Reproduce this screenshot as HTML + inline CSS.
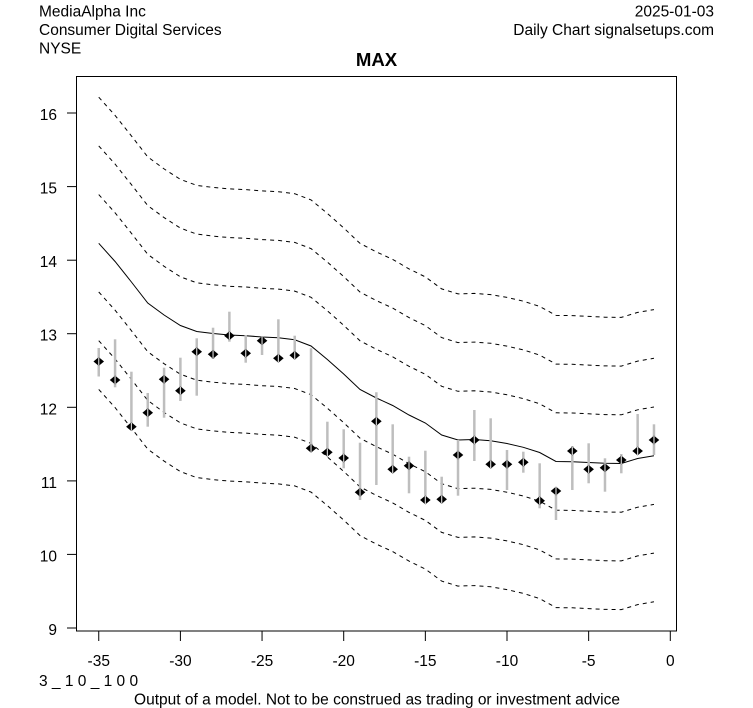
<!DOCTYPE html>
<html><head><meta charset="utf-8"><style>
html,body{margin:0;padding:0;background:#fff;}
svg{display:block;}
text{font-family:"Liberation Sans",Arial,sans-serif;fill:#000;}
</style></head><body>
<svg width="753" height="708" viewBox="0 0 753 708" xmlns="http://www.w3.org/2000/svg">
<rect x="0" y="0" width="753" height="708" fill="#fff"/>
<!-- header -->
<text x="39" y="16.7" font-size="15.5">MediaAlpha Inc</text>
<text x="39" y="35" font-size="15.5">Consumer Digital Services</text>
<text x="39" y="53.3" font-size="15.5">NYSE</text>
<text x="714" y="16.7" font-size="15.5" text-anchor="end">2025-01-03</text>
<text x="714" y="35" font-size="15.5" text-anchor="end">Daily Chart signalsetups.com</text>
<text x="376.5" y="66" font-size="18.6" font-weight="bold" text-anchor="middle">MAX</text>

<!-- box -->
<rect x="76.5" y="76.5" width="600" height="554.5" fill="none" stroke="#000" stroke-width="1"/>

<!-- y ticks -->
<g stroke="#000" stroke-width="1">
<line x1="67" y1="628" x2="76.5" y2="628"/>
<line x1="67" y1="554.4" x2="76.5" y2="554.4"/>
<line x1="67" y1="480.9" x2="76.5" y2="480.9"/>
<line x1="67" y1="407.3" x2="76.5" y2="407.3"/>
<line x1="67" y1="333.7" x2="76.5" y2="333.7"/>
<line x1="67" y1="260.2" x2="76.5" y2="260.2"/>
<line x1="67" y1="186.6" x2="76.5" y2="186.6"/>
<line x1="67" y1="113" x2="76.5" y2="113"/>
</g>
<g font-size="15.5" text-anchor="end">
<text x="57" y="635">9</text>
<text x="57" y="561.4">10</text>
<text x="57" y="487.9">11</text>
<text x="57" y="414.3">12</text>
<text x="57" y="340.7">13</text>
<text x="57" y="267.2">14</text>
<text x="57" y="193.6">15</text>
<text x="57" y="120">16</text>
</g>

<!-- x ticks -->
<g stroke="#000" stroke-width="1">
<line x1="98.75" y1="631" x2="98.75" y2="641"/>
<line x1="180.4" y1="631" x2="180.4" y2="641"/>
<line x1="262.05" y1="631" x2="262.05" y2="641"/>
<line x1="343.7" y1="631" x2="343.7" y2="641"/>
<line x1="425.35" y1="631" x2="425.35" y2="641"/>
<line x1="507" y1="631" x2="507" y2="641"/>
<line x1="588.65" y1="631" x2="588.65" y2="641"/>
<line x1="670.3" y1="631" x2="670.3" y2="641"/>
</g>
<g font-size="15.5" text-anchor="middle">
<text x="98.75" y="666">-35</text>
<text x="180.4" y="666">-30</text>
<text x="262.05" y="666">-25</text>
<text x="343.7" y="666">-20</text>
<text x="425.35" y="666">-15</text>
<text x="507" y="666">-10</text>
<text x="588.65" y="666">-5</text>
<text x="670.3" y="666">0</text>
</g>

<!-- bottom texts -->
<text x="39" y="686" font-size="15.5">3 _ 1 0 _ 1 0 0</text>
<text x="377" y="704.5" font-size="15.5" text-anchor="middle">Output of a model. Not to be construed as trading or investment advice</text>

<!-- lines -->
<g fill="none" stroke="#000" stroke-width="1">
<path id="c" d="M98.75,243.3 L115.08,261.5 L131.41,282 L147.74,303 L164.07,315 L180.4,325.5 L196.73,331.5 L213.06,333.5 L229.39,335 L245.72,335.7 L262.05,337 L278.38,337.8 L294.71,339.8 L311.04,346 L327.37,359.5 L343.7,374 L360.03,389.5 L376.36,398 L392.69,405.5 L409.02,415 L425.35,423 L441.68,435 L458.01,440 L474.34,439.5 L490.67,440.7 L507,443.5 L523.33,447.3 L539.66,452.5 L555.99,461.5 L572.32,461.7 L588.65,462.5 L604.98,463.3 L621.31,463.5 L637.64,458.5 L653.97,455.7"/>
<g stroke-dasharray="4,4">
<use href="#c" transform="translate(0,-146.1)"/>
<use href="#c" transform="translate(0,-97.4)"/>
<use href="#c" transform="translate(0,-48.7)"/>
<use href="#c" transform="translate(0,48.7)"/>
<use href="#c" transform="translate(0,97.4)"/>
<use href="#c" transform="translate(0,146.1)"/>
</g>
</g>

<!-- candles -->
<g id="bars" stroke="#bebebe" stroke-width="2.5">
<line x1="98.75" y1="348" x2="98.75" y2="376.5"/>
<line x1="115.08" y1="339.3" x2="115.08" y2="387.3"/>
<line x1="131.41" y1="371.7" x2="131.41" y2="430"/>
<line x1="147.74" y1="393" x2="147.74" y2="426.7"/>
<line x1="164.07" y1="367.7" x2="164.07" y2="417.7"/>
<line x1="180.4" y1="357.7" x2="180.4" y2="401"/>
<line x1="196.73" y1="338.3" x2="196.73" y2="395.7"/>
<line x1="213.06" y1="327.7" x2="213.06" y2="359"/>
<line x1="229.39" y1="311.7" x2="229.39" y2="341.7"/>
<line x1="245.72" y1="335" x2="245.72" y2="362.7"/>
<line x1="262.05" y1="336.7" x2="262.05" y2="355"/>
<line x1="278.38" y1="319.3" x2="278.38" y2="361.7"/>
<line x1="294.71" y1="335.7" x2="294.71" y2="359.3"/>
<line x1="311.04" y1="348.3" x2="311.04" y2="450"/>
<line x1="327.37" y1="421.7" x2="327.37" y2="455"/>
<line x1="343.7" y1="429.3" x2="343.7" y2="468.3"/>
<line x1="360.03" y1="442.7" x2="360.03" y2="500"/>
<line x1="376.36" y1="392.3" x2="376.36" y2="485"/>
<line x1="392.69" y1="424.3" x2="392.69" y2="471.7"/>
<line x1="409.02" y1="456.7" x2="409.02" y2="493.3"/>
<line x1="425.35" y1="450.7" x2="425.35" y2="503.3"/>
<line x1="441.68" y1="476.7" x2="441.68" y2="503.3"/>
<line x1="458.01" y1="440" x2="458.01" y2="495.7"/>
<line x1="474.34" y1="410" x2="474.34" y2="461"/>
<line x1="490.67" y1="418.3" x2="490.67" y2="468.3"/>
<line x1="507" y1="450" x2="507" y2="490"/>
<line x1="523.33" y1="451.7" x2="523.33" y2="472.7"/>
<line x1="539.66" y1="463.3" x2="539.66" y2="508.3"/>
<line x1="555.99" y1="487.7" x2="555.99" y2="520"/>
<line x1="572.32" y1="446" x2="572.32" y2="490"/>
<line x1="588.65" y1="443.3" x2="588.65" y2="483.3"/>
<line x1="604.98" y1="458.3" x2="604.98" y2="491.7"/>
<line x1="621.31" y1="454" x2="621.31" y2="473.3"/>
<line x1="637.64" y1="414" x2="637.64" y2="455"/>
<line x1="653.97" y1="424.3" x2="653.97" y2="455"/>
</g>
<g fill="#000">
<path d="M0,-4.4 L5.3,0 L0,4.4 L-5.3,0Z" id="d" transform="translate(98.75,361.5)"/>
<use href="#d" transform="translate(16.33,18.5)"/>
<use href="#d" transform="translate(32.66,65.2)"/>
<use href="#d" transform="translate(48.99,51.2)"/>
<use href="#d" transform="translate(65.32,17.8)"/>
<use href="#d" transform="translate(81.65,29.2)"/>
<use href="#d" transform="translate(97.98,-9.8)"/>
<use href="#d" transform="translate(114.31,-7.2)"/>
<use href="#d" transform="translate(130.64,-25.8)"/>
<use href="#d" transform="translate(146.97,-8.2)"/>
<use href="#d" transform="translate(163.3,-20.8)"/>
<use href="#d" transform="translate(179.63,-3.2)"/>
<use href="#d" transform="translate(195.96,-6.2)"/>
<use href="#d" transform="translate(212.29,86.8)"/>
<use href="#d" transform="translate(228.62,90.8)"/>
<use href="#d" transform="translate(244.95,96.5)"/>
<use href="#d" transform="translate(261.28,130.8)"/>
<use href="#d" transform="translate(277.61,59.8)"/>
<use href="#d" transform="translate(293.94,107.8)"/>
<use href="#d" transform="translate(310.27,104.2)"/>
<use href="#d" transform="translate(326.6,138.5)"/>
<use href="#d" transform="translate(342.93,137.8)"/>
<use href="#d" transform="translate(359.26,93.5)"/>
<use href="#d" transform="translate(375.59,78.5)"/>
<use href="#d" transform="translate(391.92,102.8)"/>
<use href="#d" transform="translate(408.25,102.8)"/>
<use href="#d" transform="translate(424.58,100.8)"/>
<use href="#d" transform="translate(440.91,139.2)"/>
<use href="#d" transform="translate(457.24,129.5)"/>
<use href="#d" transform="translate(473.57,89.5)"/>
<use href="#d" transform="translate(489.9,107.8)"/>
<use href="#d" transform="translate(506.23,106.2)"/>
<use href="#d" transform="translate(522.56,98.5)"/>
<use href="#d" transform="translate(538.89,89.5)"/>
<use href="#d" transform="translate(555.22,78.5)"/>
</g>
<g stroke="#cfcfcf" stroke-width="1.2">
<line x1="98.75" y1="357.5" x2="98.75" y2="365.5"/>
<line x1="115.08" y1="376" x2="115.08" y2="384"/>
<line x1="131.41" y1="422.7" x2="131.41" y2="430.7"/>
<line x1="147.74" y1="408.7" x2="147.74" y2="416.7"/>
<line x1="164.07" y1="375.3" x2="164.07" y2="383.3"/>
<line x1="180.4" y1="386.7" x2="180.4" y2="394.7"/>
<line x1="196.73" y1="347.7" x2="196.73" y2="355.7"/>
<line x1="213.06" y1="350.3" x2="213.06" y2="358.3"/>
<line x1="229.39" y1="331.7" x2="229.39" y2="339.7"/>
<line x1="245.72" y1="349.3" x2="245.72" y2="357.3"/>
<line x1="262.05" y1="336.7" x2="262.05" y2="344.7"/>
<line x1="278.38" y1="354.3" x2="278.38" y2="362.3"/>
<line x1="294.71" y1="351.3" x2="294.71" y2="359.3"/>
<line x1="311.04" y1="444.3" x2="311.04" y2="452.3"/>
<line x1="327.37" y1="448.3" x2="327.37" y2="456.3"/>
<line x1="343.7" y1="454" x2="343.7" y2="462"/>
<line x1="360.03" y1="488.3" x2="360.03" y2="496.3"/>
<line x1="376.36" y1="417.3" x2="376.36" y2="425.3"/>
<line x1="392.69" y1="465.3" x2="392.69" y2="473.3"/>
<line x1="409.02" y1="461.7" x2="409.02" y2="469.7"/>
<line x1="425.35" y1="496" x2="425.35" y2="504"/>
<line x1="441.68" y1="495.3" x2="441.68" y2="503.3"/>
<line x1="458.01" y1="451" x2="458.01" y2="459"/>
<line x1="474.34" y1="436" x2="474.34" y2="444"/>
<line x1="490.67" y1="460.3" x2="490.67" y2="468.3"/>
<line x1="507" y1="460.3" x2="507" y2="468.3"/>
<line x1="523.33" y1="458.3" x2="523.33" y2="466.3"/>
<line x1="539.66" y1="496.7" x2="539.66" y2="504.7"/>
<line x1="555.99" y1="487" x2="555.99" y2="495"/>
<line x1="572.32" y1="447" x2="572.32" y2="455"/>
<line x1="588.65" y1="465.3" x2="588.65" y2="473.3"/>
<line x1="604.98" y1="463.7" x2="604.98" y2="471.7"/>
<line x1="621.31" y1="456" x2="621.31" y2="464"/>
<line x1="637.64" y1="447" x2="637.64" y2="455"/>
<line x1="653.97" y1="436" x2="653.97" y2="444"/>
</g>
</svg>
</body></html>
